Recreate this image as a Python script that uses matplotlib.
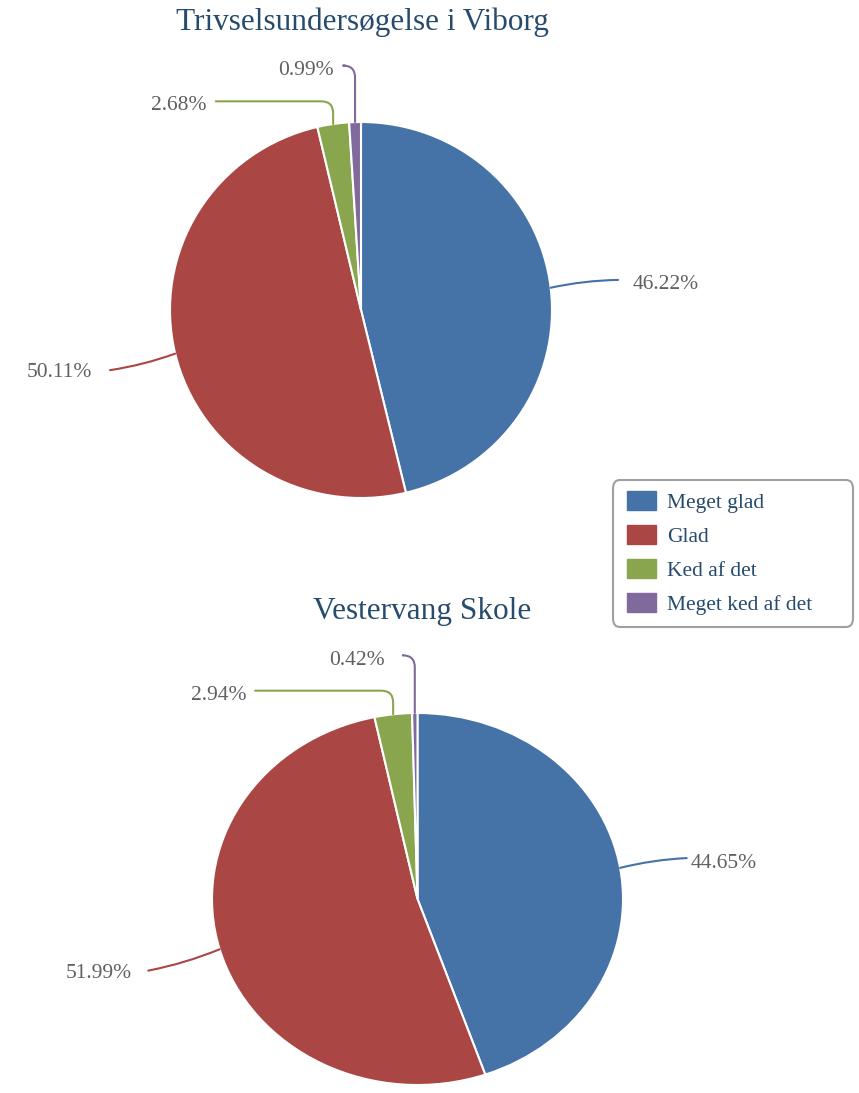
import matplotlib
matplotlib.use("Agg")
import matplotlib.pyplot as plt
from matplotlib.patches import Patch, FancyBboxPatch
import numpy as np

plt.rcParams['font.family'] = ['Liberation Serif', 'DejaVu Serif']

# data
categories = ['Meget glad', 'Glad', 'Ked af det', 'Meget ked af det']
viborg_values = [46.22, 50.11, 2.68, 0.99]
vestervang_values = [44.65, 51.99, 2.94, 0.42]
titles = ['Trivselsundersøgelse i Viborg', 'Vestervang Skole']

colors = ['#4572A7', '#AA4643', '#89A54E', '#80699B']
title_color = '#274b6d'
label_color = '#606060'

W, H = 859, 1093


def px_axes(fig, left, top, right, bottom):
    # axes placed by pixel box
    return fig.add_axes([left / W, 1 - bottom / H, (right - left) / W, (bottom - top) / H])


def draw_pie(ax, values, label_pos, line_end, styles):
    wedges, _ = ax.pie(values, colors=colors, startangle=90, counterclock=False,
                       wedgeprops=dict(edgecolor='white', linewidth=1.5))
    ax.set_aspect('auto')
    ax.set_xlim(-1, 1)
    ax.set_ylim(-1, 1)
    ax.axis('off')
    for w, v, c, (tx, ty), (lx, ly), st in zip(wedges, values, colors, label_pos, line_end, styles):
        ang = np.radians((w.theta1 + w.theta2) / 2)
        px, py = np.cos(ang), np.sin(ang)
        if st == 'side':
            conn = 'arc3,rad=0.05'
        else:
            conn = 'angle,angleA=0,angleB=90,rad=12'
        ax.annotate('', xy=(px, py), xytext=(lx, ly),
                    arrowprops=dict(arrowstyle='-', color=c, lw=1.5,
                                    connectionstyle=conn, shrinkA=0, shrinkB=0))
        ha = 'left' if tx > 0 else 'right'
        ax.text(tx, ty, f'{v:.2f}%', ha=ha, va='center', fontsize=15.5,
                color=label_color, clip_on=False)


fig = plt.figure(figsize=(W / 100, H / 100), dpi=100)
fig.patch.set_facecolor('white')

styles = ['side', 'side', 'top', 'top']

ax1 = px_axes(fig, 170, 122, 552, 498)
draw_pie(ax1, viborg_values,
         label_pos=[(1.42, 0.135), (-1.41, -0.335), (-0.81, 1.09), (-0.145, 1.275)],
         line_end=[(1.346, 0.16), (-1.314, -0.32), (-0.76, 1.11), (-0.085, 1.30)],
         styles=styles)
fig.text(362 / W, 1 - 22 / H, titles[0], ha='center', va='center',
         fontsize=22.5, color=title_color)

ax2 = px_axes(fig, 212, 713, 623, 1085)
draw_pie(ax2, vestervang_values,
         label_pos=[(1.33, 0.19), (-1.39, -0.40), (-0.83, 1.095), (-0.16, 1.28)],
         line_end=[(1.31, 0.22), (-1.31, -0.385), (-0.79, 1.12), (-0.07, 1.31)],
         styles=styles)
fig.text(422 / W, 1 - 611 / H, titles[1], ha='center', va='center',
         fontsize=22.5, color=title_color)

# legend frame drawn separately so it can be wider than its content
frame = FancyBboxPatch((613 / W, 1 - 627 / H), 240 / W, 147 / H,
                       boxstyle='round,pad=0,rounding_size=0.008',
                       transform=fig.transFigure, facecolor='white',
                       edgecolor='#a0a0a0', linewidth=1.5, zorder=1)
fig.patches.append(frame)

handles = [Patch(facecolor=c, edgecolor=c, label=l) for c, l in zip(colors, categories)]
leg = fig.legend(handles=handles, loc='upper left',
                 bbox_to_anchor=(627 / W, 1 - 491 / H), frameon=False,
                 fontsize=15.5, handlelength=1.35, handleheight=1.0, labelspacing=0.55,
                 borderpad=0, handletextpad=0.5, borderaxespad=0)
for t in leg.get_texts():
    t.set_color(title_color)

fig.savefig('out.png', dpi=100)
